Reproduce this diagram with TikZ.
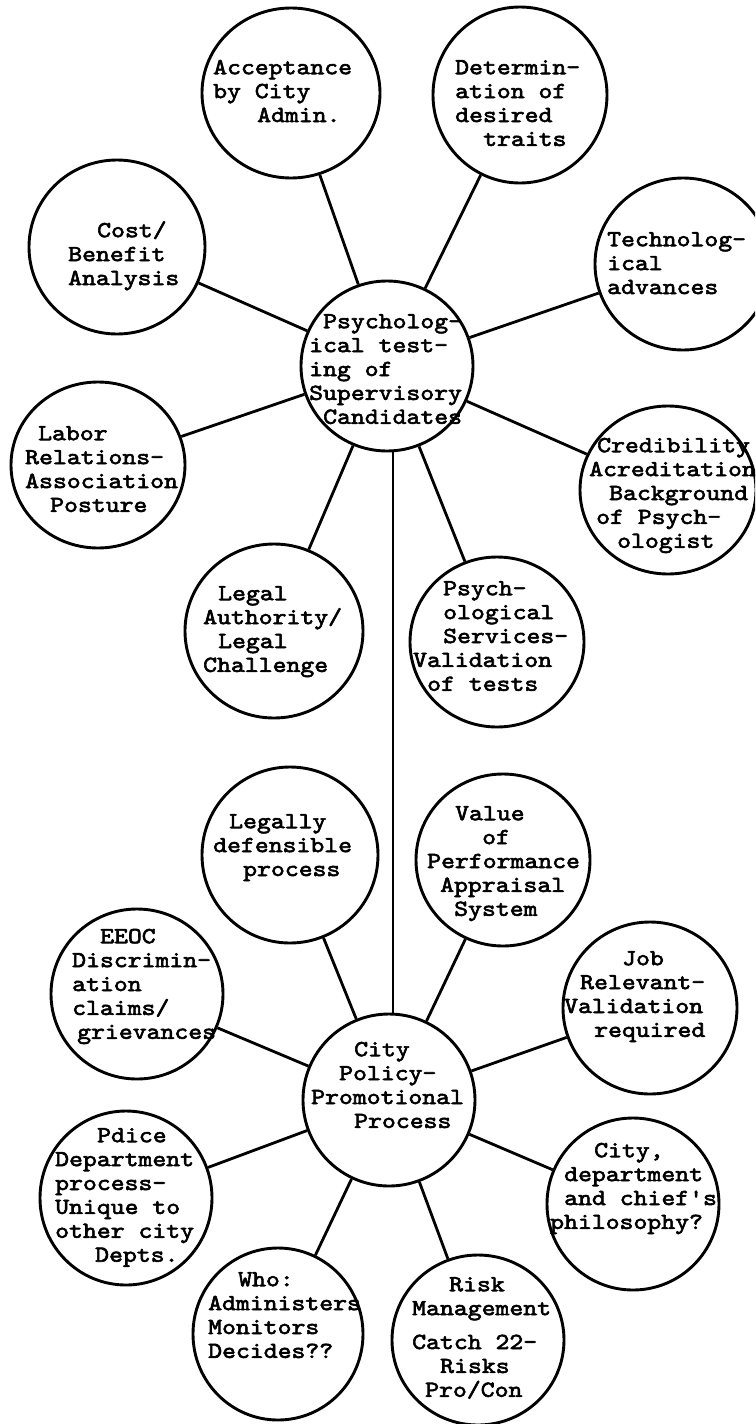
\documentclass[tikz,border=0pt]{standalone}
\usepackage{fontspec}
\newfontfamily\tw{lmmono10-regular.otf}[FakeStretch=1.15, FakeBold=2.6]
\usetikzlibrary{shapes.geometric}
\tikzset{
 bub/.style n args={2}{ellipse, draw, line width=2.9pt, inner sep=0pt, minimum width=#1pt, minimum height=#2pt},
 txt/.style={anchor=north west, inner sep=0pt, align=left, font=\tw\fontsize{23}{23.9}\selectfont},
 spoke/.style={line width=2.8pt},
}
\newcommand{\fs}{\rule{0pt}{18pt}}
\newcommand{\ind}[1]{\hspace*{#1pt}}
\begin{document}
\begin{tikzpicture}[x=1pt,y=-1pt]
\useasboundingbox (0,0) rectangle (755,1424);
\clip (0,0) rectangle (755,1424);
% circles
\node[bub={178}{170}] (acc) at (291,93) {};
\node[bub={174}{176}] (det) at (520,95) {};
\node[bub={176}{174}] (cost) at (117,247) {};
\node[bub={176}{172}] (tech) at (683,264) {};
\node[bub={172}{170}] (psych) at (387,366) {};
\node[bub={174}{166}] (labor) at (98,465) {};
\node[bub={176}{168}] (cred) at (668,490) {};
\node[bub={178}{174}] (lauth) at (274,631) {};
\node[bub={174}{170}] (pserv) at (497,642) {};
\node[bub={176}{176}] (legally) at (290,855) {};
\node[bub={174}{172}] (value) at (503,860) {};
\node[bub={172}{170}] (eeoc) at (137,994) {};
\node[bub={174}{172}] (job) at (650,1008) {};
\node[bub={172}{172}] (city) at (389,1100) {};
\node[bub={172}{174}] (police) at (126,1198) {};
\node[bub={172}{172}] (philo) at (633,1204) {};
\node[bub={170}{172}] (who) at (278,1334) {};
\node[bub={172}{170}] (risk) at (478,1340) {};
% connectors
\draw[spoke] (acc) -- (psych);
\draw[spoke] (det) -- (psych);
\draw[spoke] (cost) -- (psych);
\draw[spoke] (tech) -- (psych);
\draw[spoke] (labor) -- (psych);
\draw[spoke] (cred) -- (psych);
\draw[spoke] (lauth) -- (psych);
\draw[spoke] (pserv) -- (psych);
\draw[spoke] (psych.-86.6) -- (psych.-86.6 |- city.north);
\draw[spoke] (legally) -- (city);
\draw[spoke] (value) -- (city);
\draw[spoke] (eeoc) -- (city);
\draw[spoke] (job) -- (city);
\draw[spoke] (police) -- (city);
\draw[spoke] (philo) -- (city);
\draw[spoke] (who) -- (city);
\draw[spoke] (risk) -- (city);
% texts
\node[txt] (acc-t) at (213,56) {\fs Acceptance\\by City\\\ind{44}Admin.};
\node[txt] (det-t) at (455,56) {\fs Determin-\\ation of\\desired\\\ind{28}traits};
\node[txt] (cost-t) at (68,219) {\fs\ind{29}Cost/\\Benefit\\Analysis};
\node[txt] (tech-t) at (607,228) {\fs Technolog-\\ical\\advances};
\node[txt] (psych-t) at (309,310) {\fs\ind{14}Psycholog-\\ical test-\\ing of\\Supervisory\\\ind{14}Candidates};
\node[txt] (labor-t) at (25,422) {\fs\ind{13}Labor\\Relations-\\Association\\\ind{25}Posture};
\node[txt] (cred-t) at (589,434) {\fs\ind{8}Credibility\\Acreditation\\\ind{20}Background\\\ind{7}of Psych-\\\ind{28}ologist};
\node[txt] (lauth-t) at (203,582) {\fs\ind{15}Legal\\Authority/\\\ind{15}Legal\\Challenge};
\node[txt] (pserv-t) at (413,577) {\fs\ind{30}Psych-\\\ind{30}ological\\\ind{30}Services-\\Validation\\\ind{14}of tests};
\node[txt] (legally-t) at (213,810) {\fs\ind{16}Legally\\defensible\\\ind{30}process};
\node[txt] (value-t) at (427,802) {\fs\ind{28}Value\\\ind{55}of\\Performance\\\ind{13}Appraisal\\\ind{27}System};
\node[txt] (eeoc-t) at (72,925) {\fs\ind{28}EEOC\\Discrimin-\\ation\\claims/\\\ind{5}grievances};
\node[txt] (job-t) at (564,947) {\fs\ind{58}Job\\\ind{16}Relevant-\\Validation\\\ind{30}required};
\node[txt] (city-t) at (311,1038) {\fs\ind{43}City\\\ind{28}Policy-\\Promotional\\\ind{43}Process};
\node[txt] (police-t) at (55,1124) {\fs\ind{42}Pdice\\Department\\process-\\Unique to\\other city\\\ind{40}Depts.};
\node[txt] (who-t) at (208,1268) {\fs\ind{30}Who:\\Administers\\Monitors\\Decides??};
\node[txt] (risk-t) at (412,1273) {\fs\ind{37}Risk\\Management\\[10pt]Catch 22-\\\ind{28}Risks\\\ind{13}Pro/Con};
\node[txt] (philo-t) at (550,1139) {\fs\ind{44}City,\\\ind{14}department\\\ind{14}and chief's\\philosophy?};
\end{tikzpicture}
\end{document}
